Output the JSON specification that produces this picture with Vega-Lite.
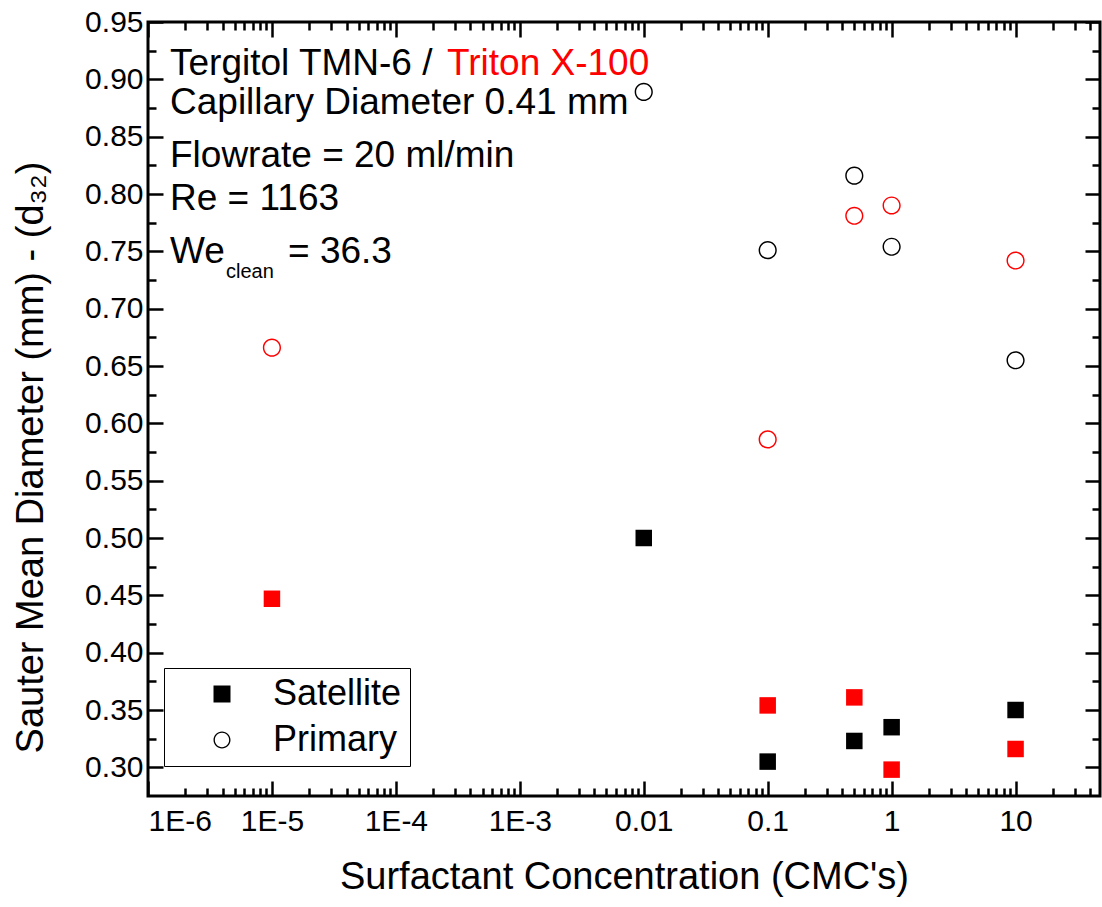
{
  "$schema": "https://vega.github.io/schema/vega-lite/v6.json",
  "autosize": {"type": "none"},
  "padding": {"left": 148, "top": 22, "right": 2, "bottom": 111},
  "width": 952,
  "height": 774,
  "background": "white",
  "datasets": {
    "pts": [
      {"conc": 0.01, "d32": 0.500, "type": "Satellite", "surfactant": "Tergitol TMN-6"},
      {"conc": 0.1, "d32": 0.305, "type": "Satellite", "surfactant": "Tergitol TMN-6"},
      {"conc": 0.5, "d32": 0.323, "type": "Satellite", "surfactant": "Tergitol TMN-6"},
      {"conc": 1, "d32": 0.335, "type": "Satellite", "surfactant": "Tergitol TMN-6"},
      {"conc": 10, "d32": 0.350, "type": "Satellite", "surfactant": "Tergitol TMN-6"},
      {"conc": 0.00001, "d32": 0.447, "type": "Satellite", "surfactant": "Triton X-100"},
      {"conc": 0.1, "d32": 0.354, "type": "Satellite", "surfactant": "Triton X-100"},
      {"conc": 0.5, "d32": 0.361, "type": "Satellite", "surfactant": "Triton X-100"},
      {"conc": 1, "d32": 0.298, "type": "Satellite", "surfactant": "Triton X-100"},
      {"conc": 10, "d32": 0.316, "type": "Satellite", "surfactant": "Triton X-100"},
      {"conc": 0.01, "d32": 0.889, "type": "Primary", "surfactant": "Tergitol TMN-6"},
      {"conc": 0.1, "d32": 0.751, "type": "Primary", "surfactant": "Tergitol TMN-6"},
      {"conc": 0.5, "d32": 0.816, "type": "Primary", "surfactant": "Tergitol TMN-6"},
      {"conc": 1, "d32": 0.754, "type": "Primary", "surfactant": "Tergitol TMN-6"},
      {"conc": 10, "d32": 0.655, "type": "Primary", "surfactant": "Tergitol TMN-6"},
      {"conc": 0.00001, "d32": 0.666, "type": "Primary", "surfactant": "Triton X-100"},
      {"conc": 0.1, "d32": 0.586, "type": "Primary", "surfactant": "Triton X-100"},
      {"conc": 0.5, "d32": 0.781, "type": "Primary", "surfactant": "Triton X-100"},
      {"conc": 1, "d32": 0.790, "type": "Primary", "surfactant": "Triton X-100"},
      {"conc": 10, "d32": 0.742, "type": "Primary", "surfactant": "Triton X-100"}
    ],
    "notes": [
      {"t": "Tergitol TMN-6 / ", "x": 0.000001505, "y": 0.9035, "kind": "black"},
      {"t": "Triton X-100", "x": 0.0002588, "y": 0.9035, "kind": "red"},
      {"t": "Capillary Diameter 0.41 mm", "x": 0.000001505, "y": 0.8696, "kind": "black"},
      {"t": "Flowrate = 20 ml/min", "x": 0.000001505, "y": 0.8233, "kind": "black"},
      {"t": "Re = 1163", "x": 0.000001505, "y": 0.7858, "kind": "black"},
      {"t": "We", "x": 0.000001505, "y": 0.7396, "kind": "black"},
      {"t": "clean", "x": 0.00000426, "y": 0.7266, "kind": "sub"},
      {"t": "= 36.3", "x": 0.00001349, "y": 0.7396, "kind": "black"}
    ]
  },
  "data": {"name": "pts"},
  "resolve": {"axis": {"x": "independent", "y": "independent"}},
  "layer": [
    {
      "transform": [{"filter": "datum.type == 'Satellite'"}],
      "mark": {"type": "point", "filled": true, "opacity": 1, "size": 272},
      "encoding": {
        "x": {
          "field": "conc", "type": "quantitative",
          "scale": {"type": "log", "domain": [0.000001, 48], "nice": false},
          "axis": {
            "orient": "bottom",
            "values": [0.000001, 0.00001, 0.0001, 0.001, 0.01, 0.1, 1, 10],
            "labelExpr": "datum.value >= 0.01 ? '' + datum.value : '1E' + round(log(datum.value) / LN10)",
            "tickSize": -15,
            "labelPadding": 25,
            "title": "Surfactant Concentration (CMC's)",
            "titlePadding": 22
          }
        },
        "y": {
          "field": "d32", "type": "quantitative",
          "scale": {"domain": [0.275, 0.95], "nice": false, "zero": false},
          "axis": {
            "orient": "left",
            "values": [0.3, 0.35, 0.4, 0.45, 0.5, 0.55, 0.6, 0.65, 0.7, 0.75, 0.8, 0.85, 0.9, 0.95],
            "format": ".2f",
            "tickSize": -15,
            "labelPadding": 20,
            "title": "Sauter Mean Diameter (mm) - (d₃₂)",
            "titlePadding": 34,
            "titleY": 435
          }
        },
        "shape": {
          "field": "type", "type": "nominal",
          "scale": {"domain": ["Satellite", "Primary"], "range": ["square", "M1,0A1,1,0,1,1,-1,0A1,1,0,1,1,1,0Z M0.84,0A0.84,0.84,0,1,0,-0.84,0A0.84,0.84,0,1,0,0.84,0Z"]},
          "legend": {
            "title": null,
            "orient": "none",
            "legendX": 16,
            "legendY": 646,
            "padding": 8,
            "rowPadding": 10,
            "symbolOffset": 32,
            "labelOffset": 33,
            "symbolSize": 289,
            "symbolFillColor": "black",
            "symbolStrokeWidth": 0,
            "strokeColor": "black",
            "fillColor": "white",
            "labelFont": "Liberation Sans",
            "labelFontSize": 36,
            "labelColor": "black"
          }
        },
        "color": {
          "field": "surfactant", "type": "nominal",
          "scale": {"domain": ["Tergitol TMN-6", "Triton X-100"], "range": ["black", "#ff0000"]},
          "legend": null
        }
      }
    },
    {
      "transform": [{"filter": "datum.type == 'Primary'"}],
      "mark": {"type": "point", "filled": true, "opacity": 1, "size": 330},
      "encoding": {
        "x": {"field": "conc", "type": "quantitative", "axis": null},
        "y": {"field": "d32", "type": "quantitative", "axis": null},
        "shape": {"field": "type", "type": "nominal"},
        "color": {"field": "surfactant", "type": "nominal", "legend": null}
      }
    },
    {
      "mark": {"type": "point", "opacity": 0},
      "encoding": {
        "x": {"field": "conc", "type": "quantitative",
          "axis": {"orient": "top", "values": [0.000001, 0.00001, 0.0001, 0.001, 0.01, 0.1, 1, 10], "labels": false, "tickSize": -15, "title": null}},
        "y": {"field": "d32", "type": "quantitative",
          "axis": {"orient": "right", "values": [0.3, 0.35, 0.4, 0.45, 0.5, 0.55, 0.6, 0.65, 0.7, 0.75, 0.8, 0.85, 0.9, 0.95], "labels": false, "tickSize": -15, "title": null}}
      }
    },
    {
      "mark": {"type": "point", "opacity": 0},
      "encoding": {
        "x": {"field": "conc", "type": "quantitative",
          "axis": {"orient": "bottom", "values": [0.000002, 0.000003, 0.000004, 0.000005, 0.000006, 0.000007, 0.000008, 0.000009, 0.00002, 0.00003, 0.00004, 0.00005, 0.00006, 0.00007, 0.00008, 0.00009, 0.0002, 0.0003, 0.0004, 0.0005, 0.0006, 0.0007, 0.0008, 0.0009, 0.002, 0.003, 0.004, 0.005, 0.006, 0.007, 0.008, 0.009, 0.02, 0.03, 0.04, 0.05, 0.06, 0.07, 0.08, 0.09, 0.2, 0.3, 0.4, 0.5, 0.6, 0.7, 0.8, 0.9, 2, 3, 4, 5, 6, 7, 8, 9, 20, 30, 40], "labels": false, "tickSize": -8, "title": null}},
        "y": {"field": "d32", "type": "quantitative",
          "axis": {"orient": "left", "values": [0.325, 0.375, 0.425, 0.475, 0.525, 0.575, 0.625, 0.675, 0.725, 0.775, 0.825, 0.875, 0.925], "labels": false, "tickSize": -8, "title": null}}
      }
    },
    {
      "mark": {"type": "point", "opacity": 0},
      "encoding": {
        "x": {"field": "conc", "type": "quantitative",
          "axis": {"orient": "top", "values": [0.000002, 0.000003, 0.000004, 0.000005, 0.000006, 0.000007, 0.000008, 0.000009, 0.00002, 0.00003, 0.00004, 0.00005, 0.00006, 0.00007, 0.00008, 0.00009, 0.0002, 0.0003, 0.0004, 0.0005, 0.0006, 0.0007, 0.0008, 0.0009, 0.002, 0.003, 0.004, 0.005, 0.006, 0.007, 0.008, 0.009, 0.02, 0.03, 0.04, 0.05, 0.06, 0.07, 0.08, 0.09, 0.2, 0.3, 0.4, 0.5, 0.6, 0.7, 0.8, 0.9, 2, 3, 4, 5, 6, 7, 8, 9, 20, 30, 40], "labels": false, "tickSize": -8, "title": null}},
        "y": {"field": "d32", "type": "quantitative",
          "axis": {"orient": "right", "values": [0.325, 0.375, 0.425, 0.475, 0.525, 0.575, 0.625, 0.675, 0.725, 0.775, 0.825, 0.875, 0.925], "labels": false, "tickSize": -8, "title": null}}
      }
    },
    {
      "data": {"name": "notes"},
      "transform": [{"filter": "datum.kind == 'black'"}],
      "mark": {"type": "text", "align": "left", "baseline": "alphabetic", "font": "Liberation Sans", "fontSize": 37, "color": "black"},
      "encoding": {
        "x": {"field": "x", "type": "quantitative", "axis": null},
        "y": {"field": "y", "type": "quantitative", "axis": null},
        "text": {"field": "t"}
      }
    },
    {
      "data": {"name": "notes"},
      "transform": [{"filter": "datum.kind == 'red'"}],
      "mark": {"type": "text", "align": "left", "baseline": "alphabetic", "font": "Liberation Sans", "fontSize": 37, "color": "#ff0000"},
      "encoding": {
        "x": {"field": "x", "type": "quantitative", "axis": null},
        "y": {"field": "y", "type": "quantitative", "axis": null},
        "text": {"field": "t"}
      }
    },
    {
      "data": {"name": "notes"},
      "transform": [{"filter": "datum.kind == 'sub'"}],
      "mark": {"type": "text", "align": "left", "baseline": "alphabetic", "font": "Liberation Sans", "fontSize": 20, "color": "black"},
      "encoding": {
        "x": {"field": "x", "type": "quantitative", "axis": null},
        "y": {"field": "y", "type": "quantitative", "axis": null},
        "text": {"field": "t"}
      }
    }
  ],
  "config": {
    "view": {"stroke": "black", "strokeWidth": 3},
    "axis": {
      "domain": false,
      "grid": false,
      "tickColor": "black",
      "tickWidth": 2.5,
      "labelFont": "Liberation Sans",
      "labelFontSize": 30,
      "labelColor": "black",
      "titleFont": "Liberation Sans",
      "titleFontSize": 38,
      "titleFontWeight": "normal",
      "titleColor": "black"
    }
  }
}
